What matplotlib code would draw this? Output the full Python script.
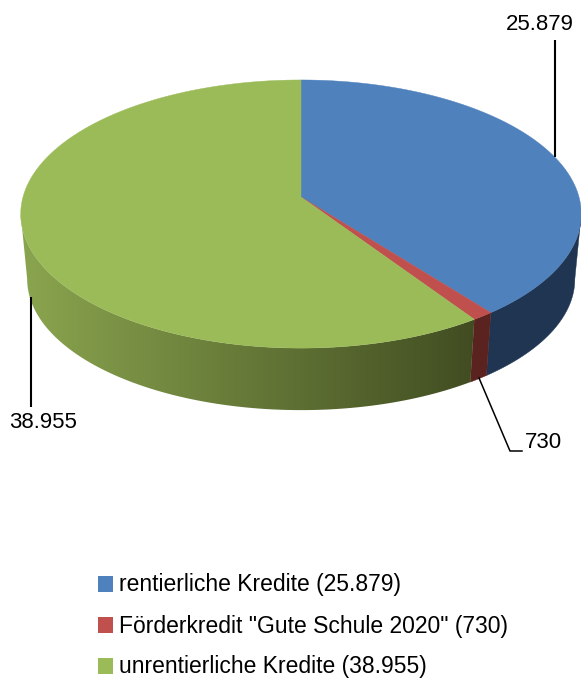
import numpy as np
import matplotlib
matplotlib.use("Agg")
import matplotlib.pyplot as plt
from matplotlib.colors import LinearSegmentedColormap
from matplotlib.patches import Polygon, Rectangle

categories = ['rentierliche Kredite (25.879)', 'Förderkredit "Gute Schule 2020" (730)', 'unrentierliche Kredite (38.955)']
values = [25879, 730, 38955]
value_labels = ['25.879', '730', '38.955']
colors = ['#4f81bd', '#c0504d', '#9bbb59']
side_colors = ['#1f3552', '#5a2320', None]

plt.rcParams['font.family'] = ['Liberation Sans', 'DejaVu Sans']

K = 0.127
# angulos onde a silhueta do disco e tangente na vertical
TANGENT = np.degrees(np.arccos(-K))


def project(theta, bottom=False):
    """circulo em perspectiva -> pixels, theta em graus a partir do topo, sentido horario"""
    t = np.radians(theta)
    x, y = np.sin(t), np.cos(t)
    w = 1 + K * y
    px = 278 * x / w
    py = -131.9 * y / w
    if bottom:
        return 301 + 0.977 * px, 197 + 65.5 + 0.977 * py
    return 301 + px, 197 + py


fig = plt.figure(figsize=(5.81, 6.79), dpi=100)
ax = fig.add_axes([0, 0, 1, 1])

edges = np.concatenate(([0], np.cumsum(values))) / np.sum(values) * 360
green_ramp = LinearSegmentedColormap.from_list('ramp', ['#8ba64f', '#3f4a20'])

# lateral
for i in range(len(values)):
    a0, a1 = max(edges[i], TANGENT), min(edges[i + 1], 360 - TANGENT)
    th = np.linspace(a0, a1, 300)
    xt, yt = project(th)
    xb, yb = project(th, True)
    pts = list(zip(xt, yt)) + list(zip(xb[::-1], yb[::-1]))
    if side_colors[i] is not None:
        c = side_colors[i]
        ax.add_patch(Polygon(pts, facecolor=c, edgecolor=c, lw=0.3, zorder=2))
    else:
        # gradiente horizontal recortado pelo poligono do lado
        patch = Polygon(pts, facecolor='none', edgecolor='none', transform=ax.transData)
        ax.add_patch(patch)
        grad = np.linspace(0, 1, 256).reshape(1, -1)
        im = ax.imshow(grad, cmap=green_ramp, extent=(15, 490, 420, 200), aspect='auto', zorder=2)
        im.set_clip_path(patch)

ax.set_xlim(0, 581)
ax.set_ylim(679, 0)
ax.axis('off')

# topo
for i in range(len(values)):
    th = np.linspace(edges[i], edges[i + 1], 200)
    px, py = project(th)
    pts = [(301, 197)] + list(zip(px, py))
    ax.add_patch(Polygon(pts, facecolor=colors[i], edgecolor=colors[i], lw=0.3, zorder=3))

# linhas de chamada
ax.plot([555, 555], [40, 157], color='black', lw=1.5, zorder=4, solid_capstyle='butt')
ax.plot([479, 510, 522], [378, 451, 451], color='black', lw=1.1, zorder=4)
ax.plot([31, 31], [297, 407], color='black', lw=1.5, zorder=4, solid_capstyle='butt')

ax.text(540, 25, value_labels[0], fontsize=16, ha='center', va='center', color='black')
ax.text(543.5, 442, value_labels[1], fontsize=16, ha='center', va='center', color='black')
ax.text(43, 422, value_labels[2], fontsize=16, ha='center', va='center', color='black')

# legenda
for i, (lab, yc) in enumerate(zip(categories, [584, 625, 666])):
    ax.add_patch(Rectangle((98, yc - 8), 15, 16, facecolor=colors[i], edgecolor='none'))
    ax.text(119, yc + 1, lab, fontsize=16.5, ha='left', va='center', color='black')

fig.savefig('out.png', dpi=100)
